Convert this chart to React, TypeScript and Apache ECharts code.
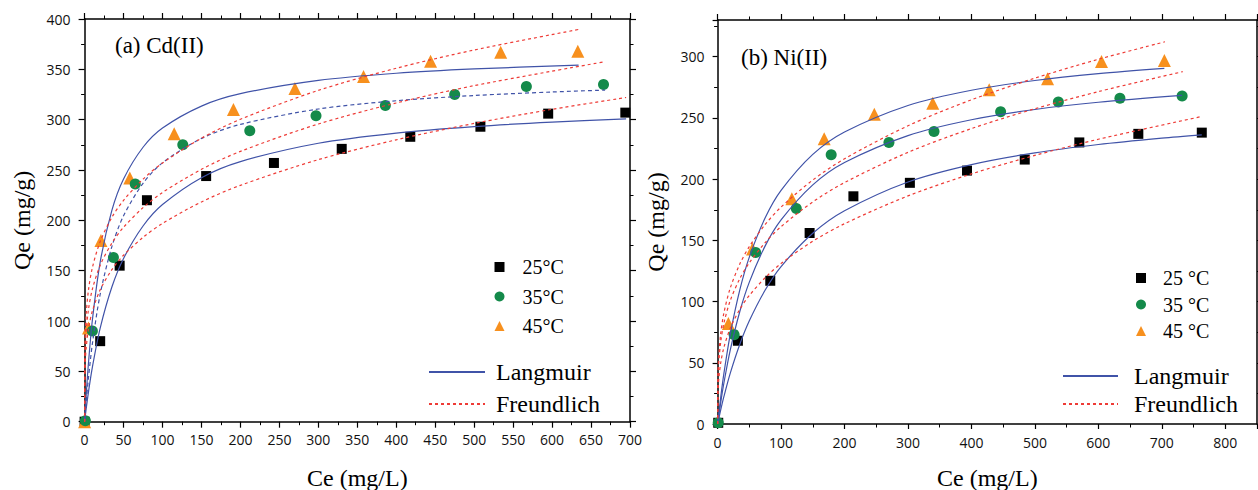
import React, { useEffect, useRef } from "react";
import * as echarts from "echarts";

// ---------- (a) Cd(II) experimental data ----------
const cdCe25 = [0, 20, 45, 80, 156, 243, 330, 418, 508, 595, 694];
const cdQe25 = [0, 80, 155, 220, 244, 257, 271, 283, 293, 306, 307];
const cdCe35 = [1, 10, 37, 65, 126, 212, 297, 386, 475, 567, 666];
const cdQe35 = [1, 90, 163, 236, 275, 289, 304, 314, 325, 333, 335];
const cdCe45 = [0, 5, 21, 58, 115, 191, 270, 358, 444, 534, 633];
const cdQe45 = [0, 93, 180, 242, 286, 310, 331, 343, 358, 367, 368];

// ---------- (a) fitted curves ----------
const cdLangCe25 = [0, 2, 5, 10, 20, 35, 50, 75, 100, 150, 200, 300, 400, 500, 600, 695];
const cdLangQe25 = [0, 12.6, 29.7, 54.3, 93.0, 133.8, 162.2, 194.4, 215.7, 242.4, 258.4, 276.6, 286.7, 293.1, 297.6, 300.7];
const cdLangCe35 = [0, 2, 5, 10, 20, 35, 50, 75, 100, 150, 200, 300, 400, 500, 600, 668];
const cdLangQe35 = [0, 18.9, 43.6, 77.5, 126.6, 173.9, 204.5, 236.8, 257.2, 281.4, 295.3, 310.6, 318.8, 324.0, 327.5, 329.4];
const cdLangCe45 = [0, 2, 5, 10, 20, 35, 50, 75, 100, 150, 200, 300, 400, 500, 634];
const cdLangQe45 = [0, 25.9, 58.5, 101.0, 158.6, 209.9, 241.1, 272.6, 291.7, 313.5, 325.8, 339.0, 346.1, 350.4, 354.2];

const cdFrCe25 = [0, 0.2, 0.5, 1, 2, 5, 10, 20, 35, 50, 75, 100, 150, 200, 300, 400, 500, 600, 695];
const cdFrQe25 = [0, 40.8, 51.4, 61.3, 73.1, 92.2, 109.9, 131.0, 151.0, 165.3, 183.1, 197.0, 218.3, 234.8, 260.3, 280.0, 296.3, 310.3, 322.0];
const cdFrCe35 = [0, 0.2, 0.5, 1, 2, 5, 10, 20, 35, 50, 75, 100, 150, 200, 300, 400, 500, 668];
const cdFrQe35 = [0, 52.0, 64.6, 76.2, 89.8, 111.7, 131.7, 155.3, 177.4, 193.1, 212.6, 227.7, 250.7, 268.5, 295.7, 316.6, 333.8, 357.6];
const cdFrCe45 = [0, 0.2, 0.5, 1, 2, 5, 10, 20, 35, 50, 75, 100, 150, 200, 300, 400, 500, 634];
const cdFrQe45 = [0, 63.5, 78.0, 91.2, 106.6, 131.0, 153.1, 178.9, 203.0, 219.9, 240.9, 257.0, 281.6, 300.4, 329.1, 351.1, 369.2, 389.6];

// ---------- (b) Ni(II) experimental data ----------
const niCe25 = [1, 32, 83, 145, 214, 303, 393, 484, 570, 663, 763];
const niQe25 = [1, 68, 117, 156, 186, 197, 207, 216, 230, 237, 238];
const niCe35 = [1, 26, 60, 124, 179, 270, 341, 446, 537, 634, 732];
const niQe35 = [1, 73, 140, 176, 220, 230, 239, 255, 263, 266, 268];
const niCe45 = [17, 55, 117, 168, 247, 339, 428, 520, 605, 704];
const niQe45 = [82, 143, 184, 233, 253, 262, 273, 282, 296, 297];

// ---------- (b) fitted curves ----------
const niLangCe25 = [0, 5, 10, 20, 35, 50, 75, 100, 150, 200, 300, 400, 500, 600, 700, 763];
const niLangQe25 = [0, 11.7, 22.5, 41.5, 65.1, 84.3, 109.4, 128.6, 155.8, 174.2, 197.7, 211.9, 221.5, 228.3, 233.5, 236.2];
const niLangCe35 = [0, 5, 10, 20, 35, 50, 75, 100, 150, 200, 300, 400, 500, 600, 732];
const niLangQe35 = [0, 17.9, 33.7, 60.5, 91.9, 115.9, 145.5, 166.7, 195.3, 213.6, 235.6, 248.5, 256.9, 262.8, 268.4];
const niLangCe45 = [0, 5, 10, 20, 35, 50, 75, 100, 150, 200, 300, 400, 500, 600, 704];
const niLangQe45 = [0, 22.2, 41.5, 73.4, 109.5, 136.3, 168.4, 190.8, 220.2, 238.5, 260.2, 272.6, 280.6, 286.2, 290.5];

const niFrCe25 = [0, 0.2, 0.5, 1, 2, 5, 10, 20, 35, 50, 75, 100, 150, 200, 300, 400, 500, 600, 763];
const niFrQe25 = [0, 17.9, 24.1, 30.0, 37.5, 50.3, 62.7, 78.3, 93.7, 105.0, 119.5, 131.1, 149.3, 163.6, 186.3, 204.3, 219.4, 232.6, 251.2];
const niFrCe35 = [0, 0.2, 0.5, 1, 2, 5, 10, 20, 35, 50, 75, 100, 150, 200, 300, 400, 500, 600, 733];
const niFrQe35 = [0, 26.4, 34.5, 42.2, 51.6, 67.4, 82.5, 100.9, 118.7, 131.7, 148.2, 161.2, 181.4, 197.2, 221.9, 241.3, 257.5, 271.5, 287.8];
const niFrCe45 = [0, 0.2, 0.5, 1, 2, 5, 10, 20, 35, 50, 75, 100, 150, 200, 300, 400, 500, 600, 705];
const niFrQe45 = [0, 29.2, 38.1, 46.6, 57.0, 74.3, 90.9, 111.1, 130.7, 144.9, 163.0, 177.2, 199.3, 216.6, 243.6, 264.8, 282.5, 297.9, 312.2];

// ---------- labels ----------
const cdTempNames = ["25°C", "35°C", "45°C"];
const niTempNames = ["25 °C", "35 °C", "45 °C"];
const modelNames = ["Langmuir", "Freundlich"];
const panelTitles = ["(a) Cd(II)", "(b) Ni(II)"];
const xTitle = "Ce (mg/L)";
const yTitle = "Qe (mg/g)";

const BLUE = "#4053a8";
const RED = "#ee3b36";
const GREEN = "#148a4a";
const ORANGE = "#f7901e";
const BLACK = "#000000";
const SERIF = "Liberation Serif";
const SANS = "Open Sans";

const pairs = (xs: number[], ys: number[]) => xs.map((x, i) => [x, ys[i]]);

export default function App() {
  const ref = useRef<HTMLDivElement>(null);

  useEffect(() => {
    if (!ref.current) return;
    const chart = echarts.init(ref.current, null, { renderer: "svg" });

    const grids = [
      { left: 84.6, top: 19, width: 545.4, height: 402.7, outerBoundsMode: "none" },
      { left: 717.6, top: 20, width: 539.4, height: 404, outerBoundsMode: "none" },
    ];

    const baseAxis = (gridIndex: number, max: number, interval: number) => ({
      gridIndex,
      type: "value",
      min: 0,
      max,
      interval,
      axisLine: { show: true, onZero: false, lineStyle: { color: BLACK, width: 1.5 } },
      axisTick: { show: true, inside: false, length: 6, lineStyle: { color: BLACK, width: 1.2 } },
      minorTick: { show: true, splitNumber: 2, length: 3.5, lineStyle: { color: BLACK, width: 1 } },
      splitLine: { show: false },
      minorSplitLine: { show: false },
    });

    const nameStyle = { fontFamily: SERIF, fontSize: 24, color: BLACK };
    const tickLabel = { fontFamily: SANS, fontSize: 14, color: "#111" };

    const xAxes = [
      {
        ...baseAxis(0, 700, 50),
        position: "bottom",
        name: xTitle,
        nameLocation: "middle",
        nameGap: 44,
        nameTextStyle: nameStyle,
        axisLabel: { ...tickLabel, margin: 11 },
      },
      { ...baseAxis(0, 700, 50), position: "top", axisLabel: { show: false } },
      {
        ...baseAxis(1, 850, 100),
        position: "bottom",
        name: xTitle,
        nameLocation: "middle",
        nameGap: 42,
        nameTextStyle: nameStyle,
        axisLabel: { ...tickLabel, margin: 11, showMaxLabel: false },
        axisTick: { show: true, inside: false, length: 5, lineStyle: { color: BLACK, width: 1.2 } },
      },
      { ...baseAxis(1, 850, 100), position: "top", axisLabel: { show: false } },
    ];

    const yAxes = [
      {
        ...baseAxis(0, 400, 50),
        position: "left",
        name: yTitle,
        nameLocation: "middle",
        nameGap: 51,
        nameTextStyle: nameStyle,
        axisLabel: { ...tickLabel, margin: 14 },
      },
      { ...baseAxis(0, 400, 50), position: "right", axisLabel: { show: false } },
      {
        ...baseAxis(1, 330, 50),
        position: "left",
        name: yTitle,
        nameLocation: "middle",
        nameGap: 50,
        nameTextStyle: nameStyle,
        axisLabel: { ...tickLabel, margin: 13, showMaxLabel: false },
        axisTick: { show: true, inside: false, length: 5, lineStyle: { color: BLACK, width: 1.2 } },
      },
      { ...baseAxis(1, 330, 50), position: "right", axisLabel: { show: false } },
    ];

    const scatter = (name: string, axis: number, xs: number[], ys: number[], symbol: string, size: number, color: string) => ({
      type: "scatter",
      name,
      xAxisIndex: axis,
      yAxisIndex: axis,
      data: pairs(xs, ys),
      symbol,
      symbolSize: size,
      itemStyle: { color, opacity: 1 },
      z: 2,
    });

    const curve = (name: string, axis: number, xs: number[], ys: number[], color: string, type: any) => ({
      type: "line",
      name,
      xAxisIndex: axis,
      yAxisIndex: axis,
      data: pairs(xs, ys),
      symbol: "none",
      showSymbol: false,
      smooth: 0.3,
      lineStyle: { color, width: 1.2, type },
      itemStyle: { color },
      z: 3,
    });

    const series = [
      // panel (a)
      scatter(cdTempNames[0], 0, cdCe25, cdQe25, "rect", 10, BLACK),
      scatter(cdTempNames[2], 0, cdCe45, cdQe45, "triangle", 13, ORANGE),
      scatter(cdTempNames[1], 0, cdCe35, cdQe35, "circle", 11, GREEN),
      curve(modelNames[0], 0, cdLangCe25, cdLangQe25, BLUE, "solid"),
      curve(modelNames[0], 0, cdLangCe35, cdLangQe35, BLUE, [4, 3]),
      curve(modelNames[0], 0, cdLangCe45, cdLangQe45, BLUE, "solid"),
      curve(modelNames[1], 0, cdFrCe25, cdFrQe25, RED, [3, 3]),
      curve(modelNames[1], 0, cdFrCe35, cdFrQe35, RED, [3, 3]),
      curve(modelNames[1], 0, cdFrCe45, cdFrQe45, RED, [3, 3]),
      // panel (b)
      scatter(niTempNames[0], 2, niCe25, niQe25, "rect", 10, BLACK),
      scatter(niTempNames[2], 2, niCe45, niQe45, "triangle", 13, ORANGE),
      scatter(niTempNames[1], 2, niCe35, niQe35, "circle", 11, GREEN),
      curve(modelNames[0], 2, niLangCe25, niLangQe25, BLUE, "solid"),
      curve(modelNames[0], 2, niLangCe35, niLangQe35, BLUE, "solid"),
      curve(modelNames[0], 2, niLangCe45, niLangQe45, BLUE, "solid"),
      curve(modelNames[1], 2, niFrCe25, niFrQe25, RED, [3, 3]),
      curve(modelNames[1], 2, niFrCe35, niFrQe35, RED, [3, 3]),
      curve(modelNames[1], 2, niFrCe45, niFrQe45, RED, [3, 3]),
    ];

    const legendText = (size: number, padLeft: number) => ({
      fontFamily: SERIF,
      fontSize: size,
      lineHeight: size,
      color: BLACK,
      padding: [0, 0, 0, padLeft],
    });

    const legends = [
      {
        data: cdTempNames,
        orient: "vertical",
        left: 489.5,
        top: 252,
        itemWidth: 10,
        itemHeight: 10,
        itemGap: 9.5,
        selectedMode: false,
        textStyle: legendText(20, 13),
      },
      {
        data: modelNames,
        orient: "vertical",
        left: 423,
        top: 355,
        itemWidth: 56,
        itemHeight: 12,
        itemGap: 8,
        selectedMode: false,
        itemStyle: { opacity: 0 },
        textStyle: legendText(24, 6),
      },
      {
        data: niTempNames,
        orient: "vertical",
        left: 1131,
        top: 263,
        itemWidth: 10,
        itemHeight: 10,
        itemGap: 6.5,
        selectedMode: false,
        textStyle: legendText(20, 12),
      },
      {
        data: modelNames,
        orient: "vertical",
        left: 1057,
        top: 359,
        itemWidth: 55,
        itemHeight: 12,
        itemGap: 4,
        selectedMode: false,
        itemStyle: { opacity: 0 },
        textStyle: legendText(24, 11),
      },
    ];

    chart.setOption({
      animation: false,
      backgroundColor: "#ffffff",
      textStyle: { fontFamily: SERIF },
      grid: grids,
      xAxis: xAxes,
      yAxis: yAxes,
      legend: legends,
      series,
      graphic: [
        {
          type: "text",
          left: 115,
          top: 34,
          style: { text: panelTitles[0], fontFamily: SERIF, fontSize: 23, fill: BLACK },
        },
        {
          type: "text",
          left: 741,
          top: 46,
          style: { text: panelTitles[1], fontFamily: SERIF, fontSize: 23, fill: BLACK },
        },
      ],
    });

    return () => chart.dispose();
  }, []);

  return (
    <div
      ref={ref}
      style={{ position: "absolute", left: 0, top: 0, width: 1258, height: 490, background: "#fff" }}
    />
  );
}
